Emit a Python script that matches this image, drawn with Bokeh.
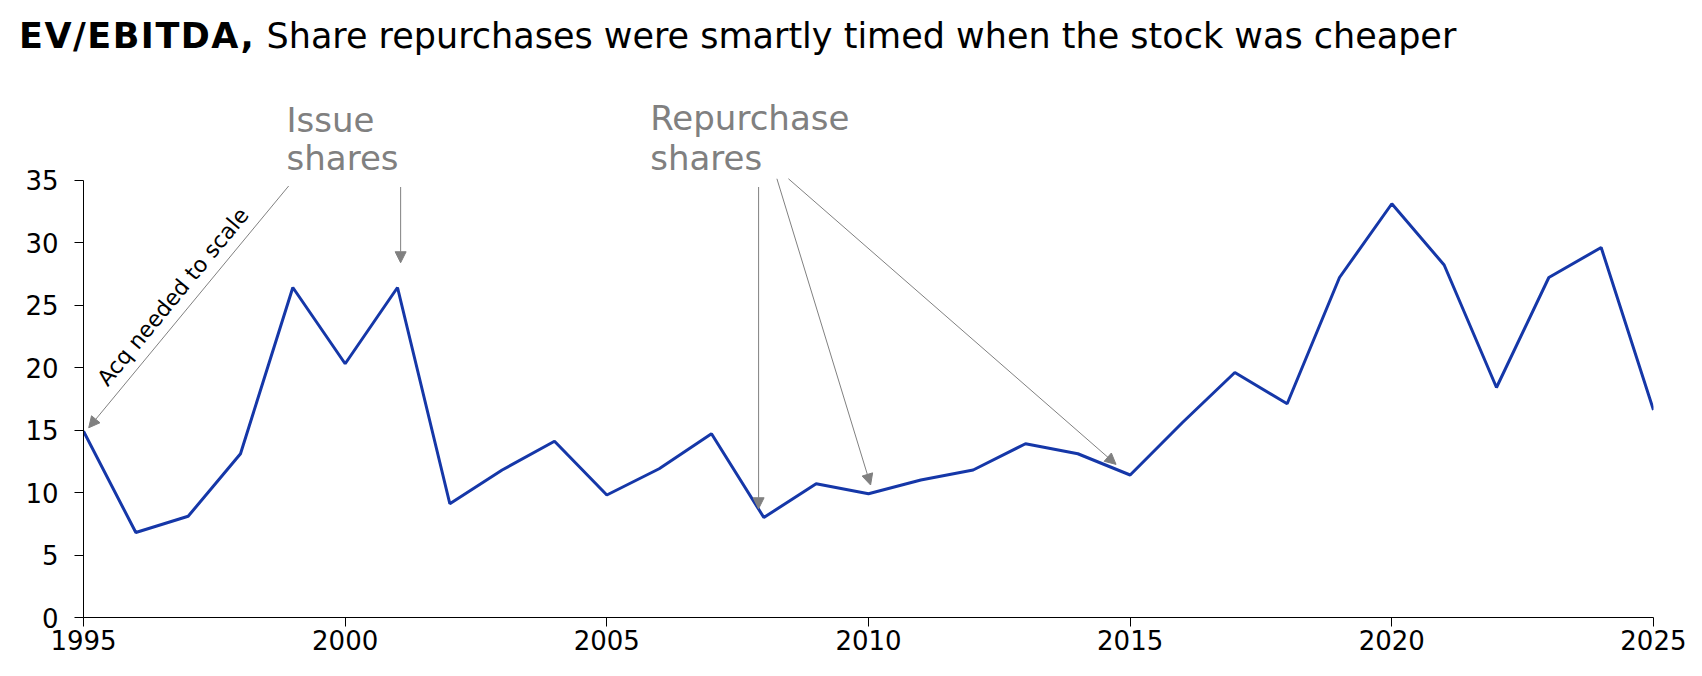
from bokeh.plotting import figure
from bokeh.layouts import column
from bokeh.models import Range1d, FixedTicker, Label, Arrow, NormalHead, Div
from bokeh.embed import file_html
from bokeh.resources import INLINE

years = [1995, 1996, 1997, 1998, 1999, 2000, 2001, 2002, 2003, 2004, 2005,
         2006, 2007, 2008, 2009, 2010, 2011, 2012, 2013, 2014, 2015,
         2016, 2017, 2018, 2019, 2020, 2021, 2022, 2023, 2024, 2025]
ev_ebitda = [14.9, 6.8, 8.1, 13.1, 26.4, 20.3, 26.4, 9.1, 11.8, 14.1, 9.8,
             11.9, 14.7, 8.0, 10.7, 9.9, 11.0, 11.8, 13.9, 13.1, 11.4,
             15.6, 19.6, 17.1, 27.2, 33.1, 28.2, 18.4, 27.2, 29.6, 16.6]
x_ticks = [1995, 2000, 2005, 2010, 2015, 2020, 2025]
y_ticks = [0, 5, 10, 15, 20, 25, 30, 35]

title_bold = "EV/EBITDA,"
title_rest = "Share repurchases were smartly timed when the stock was cheaper"

FONT = "DejaVu Sans"
GRAY = "#808080"
BLUE = "#1537A8"

W = 1686
TOP_H = 62
MAIN_H = 598

# ---- title strip ----
title = Div(text='<span style="font-weight:bold;letter-spacing:1.5px">' + title_bold
                 + '</span> ' + title_rest,
            width=W, height=TOP_H, margin=(0, 0, 0, 0),
            styles={"font-family": FONT, "font-size": "35px", "line-height": "40px",
                    "color": "black", "padding-left": "19px", "padding-top": "16px",
                    "white-space": "nowrap", "box-sizing": "border-box",
                    "overflow": "visible"})

# ---- main chart ----
Y_TOP = (MAIN_H - 43) / 12.5
p = figure(width=W, height=MAIN_H, output_backend="svg", toolbar_location=None,
           x_range=Range1d(1995, 2025), y_range=Range1d(0, Y_TOP),
           min_border_left=83, min_border_right=33, min_border_top=0,
           min_border_bottom=43)
p.outline_line_color = None
p.xgrid.visible = False
p.ygrid.visible = False

for ax in (p.xaxis[0], p.yaxis[0]):
    ax.axis_line_color = "black"
    ax.axis_line_width = 1
    ax.major_tick_line_color = "black"
    ax.major_tick_out = 9
    ax.major_tick_in = 0
    ax.minor_tick_line_color = None
    ax.major_label_text_font = FONT
    ax.major_label_text_font_size = "26px"
    ax.major_label_text_color = "black"

p.xaxis[0].ticker = FixedTicker(ticks=x_ticks)
p.yaxis[0].ticker = FixedTicker(ticks=y_ticks)
p.yaxis[0].bounds = (0, 35)
p.xaxis[0].major_label_standoff = 3
p.yaxis[0].major_label_standoff = 16

p.line(years, ev_ebitda, line_color=BLUE, line_width=3)

# Gray annotation texts
for txt, x, y in [("Issue", 1998.88, 39.8), ("shares", 1998.88, 36.8),
                  ("Repurchase", 2005.83, 39.95), ("shares", 2005.83, 36.75)]:
    p.add_layout(Label(x=x, y=y, text=txt, text_font=FONT, text_font_size="34px",
                       text_color=GRAY, text_baseline="alphabetic", text_align="left"))

# Rotated note
p.add_layout(Label(x=1996.71, y=25.66, text="Acq needed to scale", text_font=FONT,
                   text_font_size="22px", text_color="black", angle=0.88,
                   text_baseline="middle", text_align="center"))

arrows = [
    (1998.92, 34.52, 1995.10, 15.18),
    (2001.06, 34.44, 2001.06, 28.38),
    (2007.90, 34.44, 2007.90, 8.70),
    (2008.25, 35.10, 2010.04, 10.60),
    (2008.47, 35.10, 2014.73, 12.25),
]
for xs, ys, xe, ye in arrows:
    p.add_layout(Arrow(x_start=xs, y_start=ys, x_end=xe, y_end=ye,
                       line_color=GRAY, line_width=1,
                       end=NormalHead(size=11, fill_color=GRAY, line_color=GRAY)))

open("out.html", "w").write(file_html(column(title, p, spacing=0), INLINE))
